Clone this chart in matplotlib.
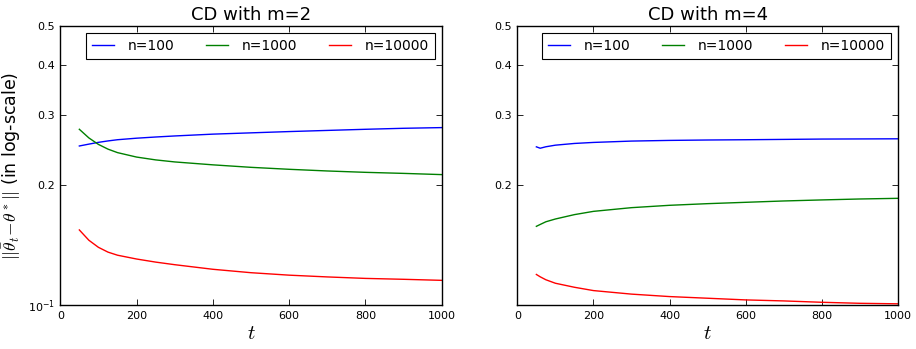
import matplotlib
matplotlib.use("Agg")
import matplotlib.pyplot as plt
from matplotlib.ticker import FixedLocator, FixedFormatter, NullLocator

plt.rcParams['mathtext.fontset'] = 'cm'
plt.rcParams['font.family'] = ['DejaVu Sans']

t = [50, 75, 100, 125, 150, 200, 250, 300, 400, 500, 600, 700, 800, 900, 1000]

# CD with m=2
m2_n100 = [0.2503, 0.2530, 0.2556, 0.2577, 0.2595, 0.2618, 0.2636, 0.2652, 0.2680, 0.2700, 0.2720, 0.2738, 0.2756, 0.2772, 0.2783]
m2_n1000 = [0.2756, 0.2622, 0.2526, 0.2458, 0.2409, 0.2348, 0.2310, 0.2283, 0.2245, 0.2213, 0.2188, 0.2167, 0.2150, 0.2137, 0.2122]
m2_n10000 = [0.1542, 0.1453, 0.1395, 0.1357, 0.1333, 0.1304, 0.1281, 0.1262, 0.1229, 0.1205, 0.1188, 0.1176, 0.1166, 0.1160, 0.1153]

# CD with m=4
t4 = [50, 60, 75, 100, 150, 200, 300, 400, 500, 600, 700, 800, 900, 1000]
m4_n100 = [0.2494, 0.2474, 0.2495, 0.2518, 0.2543, 0.2558, 0.2578, 0.2588, 0.2594, 0.2598, 0.2603, 0.2608, 0.2610, 0.2612]
m4_n1000 = [0.1578, 0.1595, 0.1620, 0.1646, 0.1688, 0.1720, 0.1757, 0.1781, 0.1798, 0.1812, 0.1826, 0.1837, 0.1847, 0.1854]
m4_n10000 = [0.1196, 0.1180, 0.1160, 0.1137, 0.1111, 0.1090, 0.1068, 0.1053, 0.1043, 0.1033, 0.1027, 0.1019, 0.1013, 0.1010]

labels = ['n=100', 'n=1000', 'n=10000']
colors = ['#0000ff', '#008000', '#ff0000']
titles = ['CD with m=2', 'CD with m=4']
ytick_vals = [0.1, 0.2, 0.3, 0.4, 0.5]
ytick_labels_left = [r'$\mathdefault{10^{-1}}$', '0.2', '0.3', '0.4', '0.5']
ytick_labels_right = ['', '0.2', '0.3', '0.4', '0.5']
xticks = [0, 200, 400, 600, 800, 1000]

fig = plt.figure(figsize=(9.16, 3.49), dpi=100)
fig.patch.set_facecolor('white')
ax1 = fig.add_axes([0.0658, 0.126, 0.4164, 0.7994])
ax2 = fig.add_axes([0.5648, 0.126, 0.4153, 0.7994])

panels = [
    (ax1, t, [m2_n100, m2_n1000, m2_n10000], titles[0], (0.1, 0.5), ytick_labels_left),
    (ax2, t4, [m4_n100, m4_n1000, m4_n10000], titles[1], (0.1003, 0.5), ytick_labels_right),
]

for ax, tt, series, title, ylim, ylabels in panels:
    for s, lab, c in zip(series, labels, colors):
        ax.plot(tt, s, color=c, lw=1.0, label=lab)
    ax.set_yscale('log')
    ax.set_ylim(*ylim)
    ax.set_xlim(0, 1000)
    ax.yaxis.set_major_locator(FixedLocator(ytick_vals))
    ax.yaxis.set_major_formatter(FixedFormatter(ylabels))
    ax.yaxis.set_minor_locator(NullLocator())
    ax.set_xticks(xticks)
    ax.set_xticklabels([str(x) for x in xticks])
    ax.tick_params(direction='in', top=True, right=True, length=4, width=0.6,
                   labelsize=8, pad=4)
    for sp in ax.spines.values():
        sp.set_linewidth(1.0)
    ax.set_title(title, fontsize=13, pad=4)
    ax.set_xlabel(r'$t$', fontsize=15, labelpad=2)
    leg = ax.legend(loc='upper right', ncol=3, fontsize=10, fancybox=False,
                    edgecolor='black', framealpha=1, handlelength=1.6,
                    columnspacing=2.3, borderaxespad=0.5, handletextpad=0.95,
                    borderpad=0.45)
    leg.get_frame().set_linewidth(0.8)

ax1.set_ylabel(r'$||\bar{\theta}_t\!-\!\theta^*||$ (in log-scale)', fontsize=12.5)
ax1.yaxis.set_label_coords(-0.098, 0.5)

fig.savefig('out.png', dpi=100, facecolor='white')
